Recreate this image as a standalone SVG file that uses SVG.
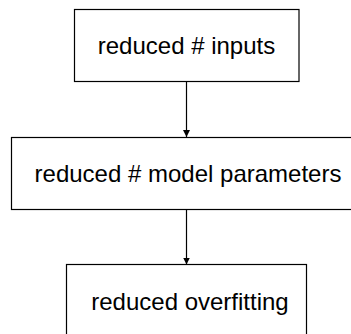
<svg xmlns="http://www.w3.org/2000/svg" width="351" height="334" viewBox="0 0 351 334">
  <style>
    .box { fill: #ffffff; stroke: #000000; stroke-width: 1.2; }
    .label { font-family: "Liberation Sans", Arial, sans-serif; font-size: 24px; fill: #000000; text-anchor: middle; }
    .edge { stroke: #000000; stroke-width: 1.2; fill: none; }
  </style>
  <defs>
    <marker id="arrow" markerWidth="8" markerHeight="8" refX="7" refY="3.5" orient="auto" markerUnits="userSpaceOnUse">
      <path d="M0,0 L7,3.5 L0,7 Z" fill="#000000"/>
    </marker>
  </defs>
  <rect width="351" height="334" fill="#ffffff"/>

  <g id="connectors">
    <line class="edge" x1="186.5" y1="81.5" x2="186.5" y2="137" marker-end="url(#arrow)"/>
    <line class="edge" x1="186.5" y1="209.5" x2="186.5" y2="264.5" marker-end="url(#arrow)"/>
  </g>

  <g id="node-inputs">
    <rect class="box" x="74.5" y="9.5" width="224.5" height="72"/>
    <text class="label" x="186.5" y="54">reduced # inputs</text>
  </g>

  <g id="node-parameters">
    <rect class="box" x="11.5" y="137.5" width="352" height="72"/>
    <text class="label" x="188" y="182">reduced # model parameters</text>
  </g>

  <g id="node-overfitting">
    <rect class="box" x="66.5" y="264.5" width="240" height="72"/>
    <text class="label" x="190" y="310">reduced overfitting</text>
  </g>
</svg>
